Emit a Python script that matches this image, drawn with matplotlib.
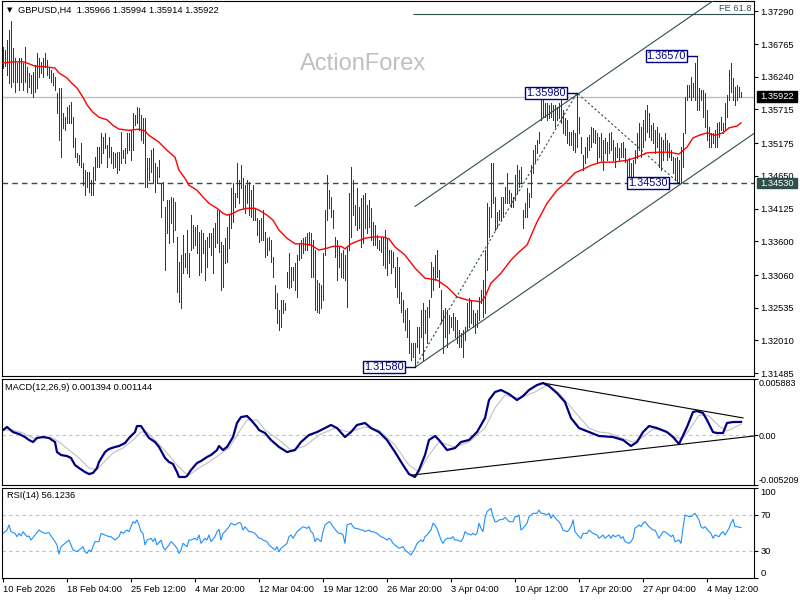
import numpy as np
import matplotlib.pyplot as plt
from matplotlib.patches import Rectangle
from matplotlib.transforms import blended_transform_factory

plt.rcParams['font.family'] = ['Liberation Sans', 'DejaVu Sans']

# H4 bars, one per 4 hours, 10 Feb 2026 -> 6 May 2026
highs = [
    1.3672, 1.3667, 1.3683, 1.3699, 1.3713, 1.3670, 1.3654, 1.3646, 1.3654, 1.3654,
    1.3646, 1.3672, 1.3640, 1.3630, 1.3627, 1.3632, 1.3643, 1.3662, 1.3654, 1.3648,
    1.3654, 1.3662, 1.3651, 1.3640, 1.3635, 1.3630, 1.3624, 1.3598, 1.3606, 1.3606,
    1.3566, 1.3559, 1.3575, 1.3579, 1.3583, 1.3559, 1.3526, 1.3502, 1.3498, 1.3518,
    1.3486, 1.3474, 1.3471, 1.3471, 1.3458, 1.3479, 1.3495, 1.3511, 1.3511, 1.3534,
    1.3527, 1.3534, 1.3514, 1.3527, 1.3511, 1.3503, 1.3502, 1.3503, 1.3503, 1.3535,
    1.3506, 1.3510, 1.3534, 1.3534,
    1.3539, 1.3566, 1.3562, 1.3575, 1.3574, 1.3562, 1.3558, 1.3558, 1.3494, 1.3494,
    1.3506, 1.3510, 1.3486, 1.3479, 1.3490, 1.3454, 1.3455, 1.3415, 1.3426, 1.3426,
    1.3431, 1.3429, 1.3423, 1.3367, 1.3327, 1.3338, 1.3370, 1.3341, 1.3378, 1.3341,
    1.3402, 1.3386, 1.3383, 1.3386, 1.3375, 1.3378, 1.3373, 1.3362, 1.3367, 1.3373,
    1.3373, 1.3381, 1.3389, 1.3410, 1.3410, 1.3359, 1.3354, 1.3365, 1.3383, 1.3402,
    1.3445, 1.3454, 1.3437, 1.3486, 1.3458, 1.3482, 1.3461, 1.3450, 1.3458, 1.3455,
    1.3442, 1.3450, 1.3413, 1.3397, 1.3394,
    1.3397, 1.3410, 1.3375, 1.3365, 1.3367, 1.3362, 1.3335, 1.3290, 1.3277, 1.3250,
    1.3266, 1.3266, 1.3261, 1.3311, 1.3341, 1.3319, 1.3319, 1.3325, 1.3338, 1.3357,
    1.3362, 1.3365, 1.3367, 1.3373, 1.3375, 1.3373, 1.3362, 1.3346, 1.3298, 1.3293,
    1.3290, 1.3341, 1.3410, 1.3466, 1.3442, 1.3431, 1.3410, 1.3367, 1.3362, 1.3351,
    1.3341, 1.3346, 1.3338, 1.3351, 1.3437, 1.3479, 1.3458, 1.3418, 1.3445, 1.3415,
    1.3429, 1.3434, 1.3437, 1.3418, 1.3426, 1.3413, 1.3391, 1.3386, 1.3370, 1.3362,
    1.3367, 1.3367, 1.3378, 1.3365, 1.3346,
    1.3346, 1.3343, 1.3319, 1.3335, 1.3319, 1.3279, 1.3266, 1.3250, 1.3253, 1.3234,
    1.3197, 1.3197, 1.3197, 1.3222, 1.3222, 1.3250, 1.3261, 1.3250, 1.3255, 1.3266,
    1.3327, 1.3319, 1.3338, 1.3346, 1.3314, 1.3282, 1.3250, 1.3253, 1.3250, 1.3242,
    1.3238, 1.3245, 1.3238, 1.3234, 1.3218, 1.3213, 1.3218, 1.3222, 1.3261, 1.3269,
    1.3266, 1.3250, 1.3245, 1.3250, 1.3271, 1.3282, 1.3298, 1.3346, 1.3421, 1.3415,
    1.3486, 1.3486, 1.3431, 1.3407, 1.3410, 1.3431, 1.3431, 1.3447, 1.3470, 1.3442,
    1.3437, 1.3431, 1.3466, 1.3482, 1.3474, 1.3479, 1.3410, 1.3421, 1.3445, 1.3437,
    1.3482, 1.3506, 1.3514, 1.3522, 1.3535, 1.3591, 1.3590, 1.3582, 1.3582, 1.3579,
    1.3582, 1.3579, 1.3579, 1.3575, 1.3582, 1.3591, 1.3571, 1.3558, 1.3555, 1.3535,
    1.3535, 1.3539, 1.3534, 1.3598, 1.3559, 1.3527, 1.3498, 1.3511, 1.3527, 1.3530,
    1.3543, 1.3542, 1.3538, 1.3534, 1.3527, 1.3534, 1.3522, 1.3526, 1.3519, 1.3534,
    1.3535, 1.3522, 1.3511, 1.3518, 1.3510, 1.3518, 1.3519, 1.3510, 1.3490, 1.3494,
    1.3486, 1.3490, 1.3506, 1.3534, 1.3550, 1.3543, 1.3555, 1.3571, 1.3579, 1.3566,
    1.3546, 1.3550, 1.3538, 1.3543, 1.3534, 1.3527, 1.3522, 1.3534, 1.3522, 1.3518,
    1.3506, 1.3495, 1.3494, 1.3495, 1.3490, 1.3511, 1.3534, 1.3591, 1.3611, 1.3611,
    1.3624, 1.3614, 1.3646, 1.3657, 1.3606, 1.3603, 1.3603, 1.3598, 1.3571, 1.3543,
    1.3534, 1.3534, 1.3538, 1.3550, 1.3551, 1.3559, 1.3550, 1.3582, 1.3595, 1.3635,
    1.3646, 1.3622, 1.3607, 1.3611, 1.3607, 1.3599,
]
lows = [
    1.3638, 1.3641, 1.3627, 1.3614, 1.3607, 1.3615, 1.3599, 1.3615, 1.3603, 1.3615,
    1.3603, 1.3615, 1.3599, 1.3607, 1.3598, 1.3591, 1.3599, 1.3606, 1.3624, 1.3630,
    1.3624, 1.3640, 1.3627, 1.3622, 1.3615, 1.3611, 1.3603, 1.3566, 1.3522, 1.3495,
    1.3542, 1.3538, 1.3550, 1.3550, 1.3550, 1.3511, 1.3495, 1.3487, 1.3482, 1.3479,
    1.3450, 1.3434, 1.3447, 1.3439, 1.3434, 1.3434, 1.3458, 1.3479, 1.3479, 1.3486,
    1.3502, 1.3510, 1.3479, 1.3495, 1.3486, 1.3478, 1.3479, 1.3470, 1.3474, 1.3486,
    1.3494, 1.3486, 1.3502, 1.3506,
    1.3490, 1.3506, 1.3546, 1.3550, 1.3538, 1.3522, 1.3518, 1.3447, 1.3447, 1.3458,
    1.3471, 1.3455, 1.3439, 1.3454, 1.3463, 1.3399, 1.3426, 1.3314, 1.3373, 1.3357,
    1.3389, 1.3359, 1.3378, 1.3279, 1.3263, 1.3253, 1.3309, 1.3319, 1.3309, 1.3303,
    1.3346, 1.3349, 1.3354, 1.3341, 1.3306, 1.3311, 1.3341, 1.3298, 1.3319, 1.3351,
    1.3338, 1.3309, 1.3351, 1.3357, 1.3343, 1.3282, 1.3287, 1.3325, 1.3327, 1.3349,
    1.3381, 1.3391, 1.3415, 1.3431, 1.3421, 1.3445, 1.3413, 1.3405, 1.3421, 1.3402,
    1.3399, 1.3394, 1.3394, 1.3370, 1.3359,
    1.3362, 1.3362, 1.3335, 1.3338, 1.3346, 1.3327, 1.3303, 1.3253, 1.3229, 1.3218,
    1.3222, 1.3245, 1.3250, 1.3287, 1.3285, 1.3287, 1.3298, 1.3282, 1.3271, 1.3330,
    1.3333, 1.3341, 1.3346, 1.3346, 1.3354, 1.3303, 1.3303, 1.3250, 1.3247, 1.3245,
    1.3253, 1.3266, 1.3338, 1.3394, 1.3413, 1.3399, 1.3381, 1.3335, 1.3298, 1.3319,
    1.3303, 1.3301, 1.3298, 1.3255, 1.3346, 1.3367, 1.3402, 1.3386, 1.3378, 1.3381,
    1.3351, 1.3357, 1.3381, 1.3373, 1.3383, 1.3362, 1.3354, 1.3354, 1.3349, 1.3346,
    1.3343, 1.3322, 1.3317, 1.3306, 1.3325,
    1.3309, 1.3319, 1.3287, 1.3271, 1.3261, 1.3247, 1.3230, 1.3218, 1.3206, 1.3181,
    1.3170, 1.3174, 1.3158, 1.3190, 1.3181, 1.3206, 1.3170, 1.3213, 1.3197, 1.3238,
    1.3271, 1.3282, 1.3298, 1.3303, 1.3287, 1.3229, 1.3181, 1.3206, 1.3190, 1.3213,
    1.3222, 1.3218, 1.3206, 1.3197, 1.3190, 1.3190, 1.3174, 1.3202, 1.3218, 1.3222,
    1.3229, 1.3222, 1.3213, 1.3222, 1.3234, 1.3261, 1.3238, 1.3245, 1.3314, 1.3367,
    1.3399, 1.3421, 1.3378, 1.3383, 1.3394, 1.3394, 1.3399, 1.3421, 1.3421, 1.3421,
    1.3415, 1.3415, 1.3426, 1.3437, 1.3447, 1.3454, 1.3381, 1.3399, 1.3399, 1.3415,
    1.3431, 1.3470, 1.3487, 1.3502, 1.3518, 1.3555, 1.3559, 1.3559, 1.3555, 1.3558,
    1.3559, 1.3555, 1.3543, 1.3555, 1.3558, 1.3550, 1.3534, 1.3530, 1.3518, 1.3514,
    1.3514, 1.3506, 1.3503, 1.3511, 1.3534, 1.3502, 1.3474, 1.3486, 1.3495, 1.3506,
    1.3511, 1.3519, 1.3518, 1.3487, 1.3495, 1.3490, 1.3474, 1.3502, 1.3490, 1.3502,
    1.3506, 1.3490, 1.3479, 1.3495, 1.3490, 1.3495, 1.3495, 1.3487, 1.3455, 1.3458,
    1.3458, 1.3455, 1.3486, 1.3494, 1.3506, 1.3495, 1.3511, 1.3522, 1.3535, 1.3527,
    1.3522, 1.3518, 1.3502, 1.3511, 1.3479, 1.3474, 1.3490, 1.3506, 1.3490, 1.3495,
    1.3490, 1.3470, 1.3458, 1.3455, 1.3453, 1.3455, 1.3479, 1.3534, 1.3587, 1.3591,
    1.3587, 1.3591, 1.3587, 1.3571, 1.3571, 1.3587, 1.3559, 1.3543, 1.3522, 1.3511,
    1.3511, 1.3518, 1.3511, 1.3511, 1.3527, 1.3538, 1.3534, 1.3538, 1.3559, 1.3587,
    1.3599, 1.3587, 1.3579, 1.3587, 1.3591, 1.3591,
]

# moving average (red), read at sample bars
ma_bar = [0, 5, 10, 12, 16, 21, 26, 28, 32, 34, 37, 40, 42, 45, 48, 52, 55, 58, 63, 68,
          71, 73, 78, 82, 86, 88, 91, 93, 97, 100, 103, 107, 110, 112, 115, 118, 122, 126, 128, 132,
          135, 138, 142, 146, 150, 154, 158, 162, 165, 169, 171, 174, 177, 181, 185, 190, 193, 196, 201, 206,
          211, 217, 222, 227, 232, 239, 241, 244, 249, 254, 258, 262, 267, 272, 277, 281, 286, 289, 294, 299,
          305, 312, 317, 322, 328, 333, 338, 342, 345, 348, 352, 356, 360, 363, 367, 369]
ma_val = [1.3646, 1.3648, 1.3648, 1.3646, 1.3641, 1.3640, 1.3638, 1.3630, 1.3622, 1.3615,
          1.3606, 1.3591, 1.3579, 1.3567, 1.3559, 1.3555, 1.3546, 1.3540, 1.3538, 1.3540,
          1.3537, 1.3530, 1.3519, 1.3506, 1.3495, 1.3474, 1.3461, 1.3450, 1.3442, 1.3431,
          1.3421, 1.3413, 1.3405, 1.3402, 1.3405, 1.3410, 1.3413, 1.3413, 1.3410, 1.3402,
          1.3394, 1.3378, 1.3365, 1.3356, 1.3356, 1.3354, 1.3346, 1.3349, 1.3352, 1.3352,
          1.3348, 1.3356, 1.3360, 1.3365, 1.3367, 1.3367, 1.3364, 1.3351, 1.3338, 1.3317,
          1.3301, 1.3298, 1.3287, 1.3271, 1.3266, 1.3263, 1.3271, 1.3293, 1.3309, 1.3330,
          1.3343, 1.3354, 1.3391, 1.3421, 1.3442, 1.3453, 1.3470, 1.3474, 1.3482, 1.3487,
          1.3487, 1.3490, 1.3495, 1.3502, 1.3503, 1.3503, 1.3500, 1.3511, 1.3526, 1.3530,
          1.3534, 1.3530, 1.3534, 1.3542, 1.3545, 1.3550]

macd_bar = [0, 2, 5, 8, 11, 13, 15, 17, 20, 23, 26, 27, 29, 32, 34, 36, 38, 41, 43, 45,
            47, 48, 51, 53, 56, 58, 61, 63, 66, 67, 69, 71, 73, 76, 78, 81, 83, 85, 87, 88,
            91, 92, 94, 97, 99, 102, 104, 107, 108, 110, 112, 115, 117, 119, 122, 124, 127, 128, 131, 134,
            138, 142, 146, 149, 153, 157, 161, 164, 167, 171, 174, 177, 181, 184, 188, 192, 196, 200, 203, 206,
            208, 211, 213, 216, 218, 222, 226, 229, 233, 237, 241, 243, 246, 249, 253, 257, 260, 263, 267, 270,
            273, 277, 281, 284, 288, 293, 298, 305, 310, 314, 317, 320, 323, 327, 332, 335, 338, 342, 345, 347,
            350, 352, 355, 357, 360, 362, 365, 369]
macd_val = [0.00054, 0.00086, 0.00033, 0.00013, -0.00019, -0.00050, -0.00071, -0.00029, -0.00019, -0.00029,
            -0.00071, -0.00176, -0.00207, -0.00218, -0.00238, -0.00312, -0.00343, -0.00385, -0.00406, -0.00395,
            -0.00343, -0.00280, -0.00176, -0.00144, -0.00123, -0.00113, -0.00082, -0.00029, 0.00033, 0.00096,
            0.00096, 0.00033, -0.00029, -0.00071, -0.00123, -0.00238, -0.00280, -0.00301, -0.00385, -0.00437,
            -0.00437, -0.00427, -0.00364, -0.00291, -0.00270, -0.00228, -0.00207, -0.00155, -0.00113, -0.00155,
            -0.00123, -0.00019, 0.00128, 0.00190, 0.00201, 0.00159, 0.00086, 0.00054, 0.00023, -0.00050,
            -0.00123, -0.00176, -0.00155, -0.00071, 0.00002, 0.00033, 0.00075, 0.00107, 0.00075, -0.00019,
            0.00033, 0.00107, 0.00128, 0.00075, 0.00033, -0.00050, -0.00176, -0.00312, -0.00406, -0.00437,
            -0.00364, -0.00207, -0.00050, -0.00008, -0.00050, -0.00155, -0.00134, -0.00071, -0.00050, 0.00033,
            0.00180, 0.00368, 0.00452, 0.00473, 0.00431, 0.00368, 0.00410, 0.00473, 0.00525, 0.00546,
            0.00515, 0.00441, 0.00347, 0.00180, 0.00075, 0.00033, -0.00008, -0.00019, -0.00050, -0.00113,
            -0.00071, 0.00033, 0.00096, 0.00075, 0.00033, -0.00019, -0.00092, 0.00086, 0.00243, 0.00253,
            0.00232, 0.00159, 0.00033, 0.00023, 0.00023, 0.00128, 0.00138, 0.00139]
signal_bar = [0, 5, 10, 15, 20, 25, 28, 33, 38, 43, 47, 50, 55, 60, 65, 69, 72, 77, 82, 87,
              91, 93, 98, 103, 108, 113, 118, 122, 127, 131, 138, 144, 151, 158, 166, 173, 181, 188, 196, 203,
              208, 213, 218, 226, 233, 241, 246, 251, 258, 266, 272, 278, 286, 293, 298, 303, 308, 315, 320, 325,
              330, 337, 340, 343, 348, 353, 358, 362, 365, 369]
signal_val = [0.00054, 0.00054, 0.00023, -0.00029, -0.00019, -0.00029, -0.00071, -0.00155, -0.00238, -0.00343,
              -0.00364, -0.00291, -0.00186, -0.00134, -0.00050, 0.00033, 0.00033, -0.00071, -0.00186, -0.00312,
              -0.00395, -0.00416, -0.00343, -0.00280, -0.00207, -0.00134, 0.00033, 0.00159, 0.00159, 0.00054,
              -0.00050, -0.00155, -0.00113, 0.00002, 0.00075, 0.00033, 0.00086, 0.00054, -0.00103, -0.00312,
              -0.00385, -0.00207, -0.00071, -0.00123, -0.00071, 0.00075, 0.00285, 0.00420, 0.00389, 0.00452,
              0.00525, 0.00441, 0.00243, 0.00075, 0.00033, 0.00023, -0.00019, -0.00071, -0.00019, 0.00065,
              0.00054, -0.00029, -0.00029, 0.00054, 0.00211, 0.00201, 0.00096, 0.00044, 0.00075, 0.00114]

rsi_bar = [0, 2, 3, 4, 6, 7, 8, 9, 10, 12, 13, 14, 16, 18, 19, 21, 23, 24, 26, 27,
           28, 29, 31, 33, 34, 35, 37, 38, 40, 41, 42, 43, 44, 46, 48, 49, 51, 53, 54, 56,
           58, 59, 60, 62, 63, 64, 65, 66, 67, 68, 69, 70, 71, 72, 74, 75, 76, 77, 79, 80,
           81, 83, 84, 85, 87, 88, 89, 90, 92, 93, 94, 96, 97, 98, 99, 101, 102, 103, 104, 106,
           107, 108, 109, 110, 111, 113, 114, 116, 118, 119, 120, 121, 123, 124, 126, 128, 129, 130, 132, 133,
           134, 136, 137, 138, 139, 141, 142, 143, 144, 145, 147, 148, 149, 150, 152, 153, 154, 155, 156, 157,
           159, 160, 161, 163, 164, 165, 167, 168, 169, 170, 171, 172, 174, 175, 176, 177, 179, 180, 181, 183,
           184, 185, 187, 188, 189, 190, 192, 193, 194, 195, 197, 198,
           200, 201, 202, 204, 205, 206, 207, 209, 210, 211, 212, 214, 215, 216, 217, 219, 220, 221, 222, 224,
           225, 226, 227, 229, 230, 231, 232, 234, 235, 236, 237, 238, 239, 240, 241, 242, 243, 244, 245, 246,
           247, 248, 250, 251, 252, 253, 255, 256, 257, 258, 259, 260, 262, 263, 264, 265, 267, 268, 269, 270,
           272, 273, 274, 275, 277, 278, 279, 280, 282, 283, 284, 285, 286, 288, 289, 290, 292, 293, 294, 295,
           297, 298, 299, 300, 301, 303, 304, 305, 306, 308, 309, 310, 311, 313, 314, 315, 316, 318, 319, 320,
           321, 323, 324, 325, 326, 328, 329, 330, 331, 333, 334, 335, 336, 338, 339, 340, 341, 343, 344, 345,
           346, 348, 349, 350, 351, 353, 354, 355, 356, 358, 359, 360, 361, 363, 364, 365, 366, 367, 369]
rsi_val = [49.6, 53.3, 58.9, 51.5, 49.6, 45.9, 49.6, 46.7, 51.5, 45.9, 46.7, 42.2, 47.8, 53.3, 51.5, 49.6, 50.4, 46.7, 40.4, 36.7,
           26.7, 34.8, 38.5, 42.2, 36.7, 31.1, 29.3, 31.1, 34.8, 29.3, 27.4, 31.1, 29.3, 40.4, 40.4, 49.6, 47.8, 45.9, 45.9, 42.2,
           45.9, 51.5, 49.6, 53.3, 51.5, 57.0, 62.6, 60.8, 64.5, 58.9, 51.5, 49.6, 36.7, 42.2, 44.1, 40.4, 44.1, 36.7, 42.2, 34.8,
           31.1, 36.7, 40.4, 38.5, 33.0, 27.4, 31.1, 38.5, 34.8, 42.2, 42.2, 44.1, 42.2, 47.8, 38.5, 44.1, 42.2, 47.8, 40.4, 45.9,
           51.5, 54.1, 42.2, 49.6, 51.5, 57.0, 60.8, 58.9, 61.5, 60.8, 53.3, 57.0, 51.5, 51.5, 49.6, 44.1, 44.1, 42.2, 40.4, 36.7,
           34.8, 31.1, 34.8, 29.3, 33.0, 36.7, 38.5, 45.9, 47.8, 44.1, 51.5, 53.3, 55.2, 57.0, 55.2, 57.0, 51.5, 49.6, 40.4, 44.1,
           40.4, 51.5, 58.9, 62.6, 60.8, 57.0, 51.5, 49.6, 49.6, 47.8, 38.5, 58.9, 60.8, 57.0, 55.2, 55.2, 53.3, 53.3, 51.5, 53.3,
           51.5, 51.5, 49.6, 47.8, 45.9, 45.2, 42.2, 44.1, 42.2, 38.5, 34.8, 33.0,
           34.8, 31.1, 29.3, 25.6, 29.3, 33.0, 38.5, 42.2, 40.4, 45.9, 47.8, 53.3, 60.8, 58.9, 55.2, 42.2, 38.5, 42.2, 44.1, 44.1,
           45.9, 42.2, 42.2, 40.4, 44.1, 51.5, 49.6, 47.8, 49.6, 47.8, 49.6, 60.8, 55.2, 51.5, 66.3, 73.7, 75.6, 77.4, 68.2, 62.6,
           62.6, 64.5, 65.2, 67.4, 65.2, 62.6, 62.6, 68.2, 68.2, 70.0, 53.3, 55.2, 60.8, 68.2, 70.0, 71.9, 71.9, 75.6, 71.9, 71.9,
           70.0, 71.9, 66.3, 70.0, 64.5, 62.6, 58.9, 53.3, 51.5, 53.3, 57.0, 64.5, 51.5, 45.9, 44.1, 49.6, 49.6, 53.3, 51.5, 49.6,
           47.8, 44.1, 45.9, 47.8, 44.1, 47.8, 44.1, 47.8, 45.9, 47.8, 44.1, 45.9, 40.4, 38.5, 40.4, 44.1, 55.2, 58.9, 57.0, 60.8,
           62.6, 57.0, 55.2, 53.3, 53.3, 44.1, 47.8, 51.5, 51.5, 47.8, 45.9, 47.8, 40.4, 42.2, 38.5, 55.2, 70.0, 68.2, 68.2, 70.0,
           71.9, 64.5, 57.0, 55.2, 57.0, 51.5, 49.6, 44.1, 47.8, 45.9, 49.6, 51.5, 47.8, 55.2, 60.8, 65.2, 57.0, 57.0, 56.1]

price_ticks = [1.37290, 1.36765, 1.36240, 1.35715, 1.35175, 1.34650,
               1.34125, 1.33600, 1.33060, 1.32535, 1.32010, 1.31485]
date_labels = ["10 Feb 2026", "18 Feb 04:00", "25 Feb 12:00", "4 Mar 20:00", "12 Mar 04:00",
               "19 Mar 12:00", "26 Mar 20:00", "3 Apr 04:00", "10 Apr 12:00", "17 Apr 20:00",
               "27 Apr 04:00", "4 May 12:00"]
last_price = 1.35922
support = 1.34530
fe618 = 1.37249
swing_bar = [206, 287, 338]
swing_price = [1.31580, 1.35980, 1.34530]
label_bar = [206, 287, 347, 338]
label_price = [1.31580, 1.35980, 1.36570, 1.34530]
channel_bar = [206, 375.5]
channel_low = [1.3158, 1.3533]
channel_high = [1.3416, 1.3791]
macd_upper_bar, macd_upper_val = [270, 370], [0.00546, 0.00181]
macd_lower_bar, macd_lower_val = [205, 375.5], [-0.00416, -0.00008]

W, H = 800.0, 600.0
bar_col = '#17405e'
slate = '#2f4f4f'
navy = '#000080'
fs = 6.7


def px_box(x0, y0, x1, y1):
    return [x0 / W, 1 - y1 / H, (x1 - x0) / W, (y1 - y0) / H]


fig = plt.figure(figsize=(8, 6), dpi=100)
ax = fig.add_axes(px_box(2, 1, 754, 376))
ax_macd = fig.add_axes(px_box(2, 379, 754, 485))
ax_rsi = fig.add_axes(px_box(2, 488, 754, 578))

for a in (ax, ax_macd, ax_rsi):
    a.set_xlim(-0.5, 375.5)
    a.yaxis.tick_right()
    a.tick_params(axis='y', direction='out', length=3, width=0.8, pad=1.5, labelsize=fs,
                  right=True, left=False)
    for s in a.spines.values():
        s.set_linewidth(0.8)
        s.set_color('black')
for a in (ax, ax_macd):
    a.tick_params(axis='x', bottom=False, labelbottom=False)

# ---- price panel
idx = np.arange(len(highs))
ax.set_ylim(1.31440, 1.37455)
ax.vlines(idx, lows, highs, color=bar_col, lw=0.72, antialiased=False, zorder=3)
ax.plot(ma_bar, ma_val, color='red', lw=1.0, zorder=4)
ax.axhline(last_price, color='#c0c0c0', lw=1.0, zorder=1)
ax.axhline(support, color=slate, lw=1.0, ls=(0, (4, 3)), zorder=2)
ax.hlines(fe618, channel_bar[0] - 1, channel_bar[1], color=slate, lw=0.8, zorder=2)
ax.text(374.5, fe618 + 0.0001, 'FE 61.8', ha='right', va='bottom', color=slate, fontsize=fs)
ax.plot(channel_bar, channel_low, color=slate, lw=0.8, zorder=5)
ax.plot(channel_bar, channel_high, color=slate, lw=0.8, zorder=5)
ax.plot(swing_bar, swing_price, color=slate, lw=0.8, ls=(0, (2, 2)), zorder=5)
for b, p in zip(label_bar, label_price):
    ax.plot([b - 5.5, b], [p, p], color=navy, lw=1.0, zorder=6)
    ax.text(b - 5.5, p, f'{p:.5f}', ha='right', va='center', color=navy, fontsize=7.8, zorder=7,
            bbox=dict(boxstyle='square,pad=0.1', fc='white', ec=navy, lw=1.0))

ax.set_yticks(price_ticks)
ax.set_yticklabels([f'{p:.5f}' for p in price_ticks])

tr = blended_transform_factory(fig.transFigure, ax.transData)
for p, c in ((last_price, 'black'), (support, slate)):
    ax.add_patch(Rectangle((757 / W, p - 0.00082), 40 / W, 0.00164, transform=tr,
                           fc=c, ec=c, clip_on=False, zorder=8))
    ax.text(760 / W, p, f'{p:.5f}', transform=tr, ha='left', va='center',
            color='white', fontsize=fs, zorder=9, clip_on=False)

fig.text(363 / W, 1 - 64 / H, 'ActionForex', fontsize=17, color='#c0c0c0',
         ha='center', va='center')
fig.text(9.5 / W, 1 - 10.5 / H, '\u25bc', fontsize=5, ha='center', va='center',
         family='DejaVu Sans')
fig.text(18 / W, 1 - 10 / H, 'GBPUSD,H4  1.35966 1.35994 1.35914 1.35922',
         fontsize=fs, va='center')

# ---- MACD panel
ax_macd.set_ylim(-0.005209, 0.005883)
ax_macd.axhline(0, color='#c0c0c0', lw=0.8, ls=(0, (3, 3)))
ax_macd.plot(signal_bar, signal_val, color='#c0c0c0', lw=0.8)
ax_macd.plot(macd_bar, macd_val, color=navy, lw=1.6)
ax_macd.plot(macd_upper_bar, macd_upper_val, color='black', lw=0.8)
ax_macd.plot(macd_lower_bar, macd_lower_val, color='black', lw=0.8)
ax_macd.set_yticks([0.005883, 0.0, -0.005209])
ax_macd.set_yticklabels(['0.005883', '0.00', '-0.005209'])
ax_macd.tick_params(axis='y', pad=0.3, labelsize=6.5)
ml = ax_macd.get_yticklabels()
ml[0].set_va('top')
ml[2].set_va('bottom')
fig.text(5 / W, 1 - 387 / H, 'MACD(12,26,9) 0.001394 0.001144', fontsize=fs, va='center')

# ---- RSI panel
ax_rsi.set_ylim(0, 100)
for lvl in (70, 30):
    ax_rsi.axhline(lvl, color='#c0c0c0', lw=0.8, ls=(0, (3, 3)))
ax_rsi.plot(rsi_bar, rsi_val, color='#1e90ff', lw=0.8)
ax_rsi.set_yticks([100, 70, 30, 0])
ax_rsi.set_yticklabels(['100', '70', '30', '0'])
rl = ax_rsi.get_yticklabels()
rl[0].set_va('top')
rl[3].set_va('bottom')
fig.text(7 / W, 1 - 496 / H, 'RSI(14) 56.1236', fontsize=fs, va='center')

ax_rsi.set_xticks(np.arange(len(date_labels)) * 32)
ax_rsi.set_xticklabels(date_labels, ha='left')
ax_rsi.tick_params(axis='x', direction='out', length=3, width=0.8, pad=2, labelsize=fs)

fig.savefig('out.png', dpi=100, facecolor='white')
